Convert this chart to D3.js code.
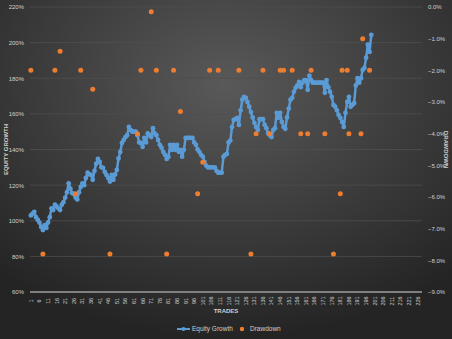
<!DOCTYPE html>
<html><head><meta charset="utf-8">
<script src="https://cdn.jsdelivr.net/npm/d3@7"></script>
<style>html,body{margin:0;padding:0;background:#2b2b2b;}svg{display:block;}</style>
</head><body>
<svg id="c" width="452" height="339"></svg>
<script>
const equity = [103,104,105,102,100.5,99,96.5,94.8,97.5,96,99,102,107,106,109,108,107,106,109,110.5,
113,116,121,118,115.5,115,113,112,116,119,121,120,124,127,126,125.7,123,128,132,134.7,
133,130,129.7,127.4,125.7,124,122,125.7,123,126,128.5,135,138.6,143.7,145.4,147,148,152.7,151,150,
150,150,148,144,143.7,141.5,146.5,144,149,148,147,152,149,148,145.4,142.6,141,138.7,137,134.7,
135.8,142.6,139.8,142.6,139.8,142.6,138.7,139.8,136,139.8,146.5,146.5,146.5,146.5,146.5,144,142.6,140,138.7,137,
136,133,131,130,130,130,130,130,128,127,127,127,136,137,137.5,144,145,152.6,156.6,157,
157.8,153.8,162,168,169.6,169,166.7,164,161,158,155,152.7,151,157,157,157,153.8,152,149,148,
147,151,152,160.6,157.8,160.6,155.5,152.7,151.6,158,163,168,169,172.4,174.6,176,178,175,177.5,179,
179,173.5,181.4,179,177.5,177.5,177.5,177.5,177.5,177.5,177.5,171.8,179,175,172.4,169.6,165,164,162,159.4,
157.8,155.5,152.7,160.6,166.7,169.6,164,165,166,176,180,177.5,180,184.7,185.8,191.5,198.8,194.8,204.4];
const ddTrades = [1,8,15,18,27,30,37,47,63,65,71,74,80,84,88,98,101,105,110,122,129,132,136,140,146,148,153,158,162,164,172,177,181,182,185,186,193,194,198];
const ddValues = [-2.0,-7.8,-2.0,-1.4,-5.9,-2.0,-2.6,-7.8,-4.0,-2.0,-0.15,-2.0,-7.8,-2.0,-3.3,-5.9,-4.9,-2.0,-2.0,-2.0,-7.8,-4.0,-2.0,-4.0,-2.0,-2.0,-2.0,-4.0,-4.0,-2.0,-4.0,-7.8,-5.9,-2.0,-2.0,-4.0,-4.0,-1.0,-2.0];
const nTrades = 228;
const leftTicks = [60,80,100,120,140,160,180,200,220];
const rightTicks = [0,-1,-2,-3,-4,-5,-6,-7,-8,-9];

const svg = d3.select("#c");
const W=452,H=339;
const defs = svg.append("defs");
const rg = defs.append("radialGradient").attr("id","bg").attr("cx","50%").attr("cy","25%").attr("r","75%");
rg.append("stop").attr("offset","0%").attr("stop-color","#595959");
rg.append("stop").attr("offset","100%").attr("stop-color","#242424");
svg.append("rect").attr("width",W).attr("height",H).attr("fill","url(#bg)");

const L=30,R=422,T=7,B=292;
const trades = d3.range(1,nTrades+1);
const x = d3.scaleBand().domain(trades).range([L,R]);
const cx = t => x(t)+x.bandwidth()/2;
const yL = d3.scaleLinear().domain([60,220]).range([B,T]);
const yR = d3.scaleLinear().domain([-9,0]).range([B,T]);
const font = "Liberation Sans, Arial, sans-serif";
const txt = "#d0d0d0";

// gridlines
svg.append("g").selectAll("line").data(leftTicks.filter(v=>v>60)).join("line")
  .attr("x1",L).attr("x2",R).attr("y1",d=>yL(d)).attr("y2",d=>yL(d))
  .attr("stroke","#4f4f4f").attr("stroke-width",0.8);

// left axis
const gl = svg.append("g").attr("transform",`translate(${L-4},0)`)
  .call(d3.axisLeft(yL).tickValues(leftTicks).tickFormat(d=>d+"%").tickSize(0).tickPadding(2));
gl.select(".domain").remove();
gl.selectAll("text").attr("fill",txt).attr("font-size","6px").attr("font-family",font);

// right axis
const gr = svg.append("g").attr("transform",`translate(${R+4},0)`)
  .call(d3.axisRight(yR).tickValues(rightTicks).tickFormat(d=>d3.format(".1f")(d)+"%").tickSize(0).tickPadding(2));
gr.select(".domain").remove();
gr.selectAll("text").attr("fill",txt).attr("font-size","6px").attr("font-family",font);

// bottom axis
svg.append("line").attr("x1",L).attr("x2",R).attr("y1",B).attr("y2",B).attr("stroke","#808080").attr("stroke-width",2);
const xTickVals = trades.filter(t=>(t-1)%5===0);
const gb = svg.append("g").attr("transform",`translate(0,${B+2})`)
  .call(d3.axisBottom(x).tickValues(xTickVals).tickSize(0).tickPadding(0));
gb.select(".domain").remove();
gb.selectAll(".tick text").attr("fill",txt).attr("font-size","5.5px").attr("font-family",font)
  .attr("transform","rotate(-90)").attr("text-anchor","middle").attr("x",-7).attr("y",0).attr("dy","0.35em");

// equity line
const eqData = equity.map((v,i)=>({t:i+1,v}));
svg.append("path").datum(eqData)
  .attr("d",d3.line().x(d=>cx(d.t)).y(d=>yL(d.v)))
  .attr("fill","none").attr("stroke","#5b9bd5").attr("stroke-width",2.5).attr("stroke-linejoin","round");
svg.append("g").selectAll("circle").data(eqData).join("circle")
  .attr("cx",d=>cx(d.t)).attr("cy",d=>yL(d.v)).attr("r",2.4).attr("fill","#5b9bd5");

// drawdown
const ddData = ddTrades.map((t,i)=>({t,v:ddValues[i]}));
svg.append("g").selectAll("circle").data(ddData).join("circle")
  .attr("cx",d=>cx(d.t)).attr("cy",d=>yR(d.v)).attr("r",2.5).attr("fill","#ed7d31");

// axis titles
svg.append("text").attr("transform",`translate(8,${(T+B)/2}) rotate(-90)`).attr("text-anchor","middle")
  .attr("fill",txt).attr("font-size","6px").attr("font-weight","bold").attr("font-family",font).text("EQUITY GROWTH");
svg.append("text").attr("transform",`translate(444,${(T+B)/2}) rotate(90)`).attr("text-anchor","middle")
  .attr("fill",txt).attr("font-size","6px").attr("font-weight","bold").attr("font-family",font).text("DRAWDOWN");
svg.append("text").attr("x",226).attr("y",313).attr("text-anchor","middle")
  .attr("fill",txt).attr("font-size","6px").attr("font-weight","bold").attr("font-family",font).text("TRADES");

// legend
const lg = svg.append("g").attr("transform","translate(0,329)");
lg.append("line").attr("x1",177).attr("x2",190).attr("y1",0).attr("y2",0).attr("stroke","#5b9bd5").attr("stroke-width",2);
lg.append("circle").attr("cx",183.5).attr("cy",0).attr("r",2.1).attr("fill","#5b9bd5");
lg.append("text").attr("x",192).attr("y",2.2).attr("fill",txt).attr("font-size","6.5px").attr("font-family",font).text("Equity Growth");
lg.append("circle").attr("cx",242).attr("cy",0).attr("r",2.2).attr("fill","#ed7d31");
lg.append("text").attr("x",250).attr("y",2.2).attr("fill",txt).attr("font-size","6.5px").attr("font-family",font).text("Drawdown");
</script>
</body></html>
